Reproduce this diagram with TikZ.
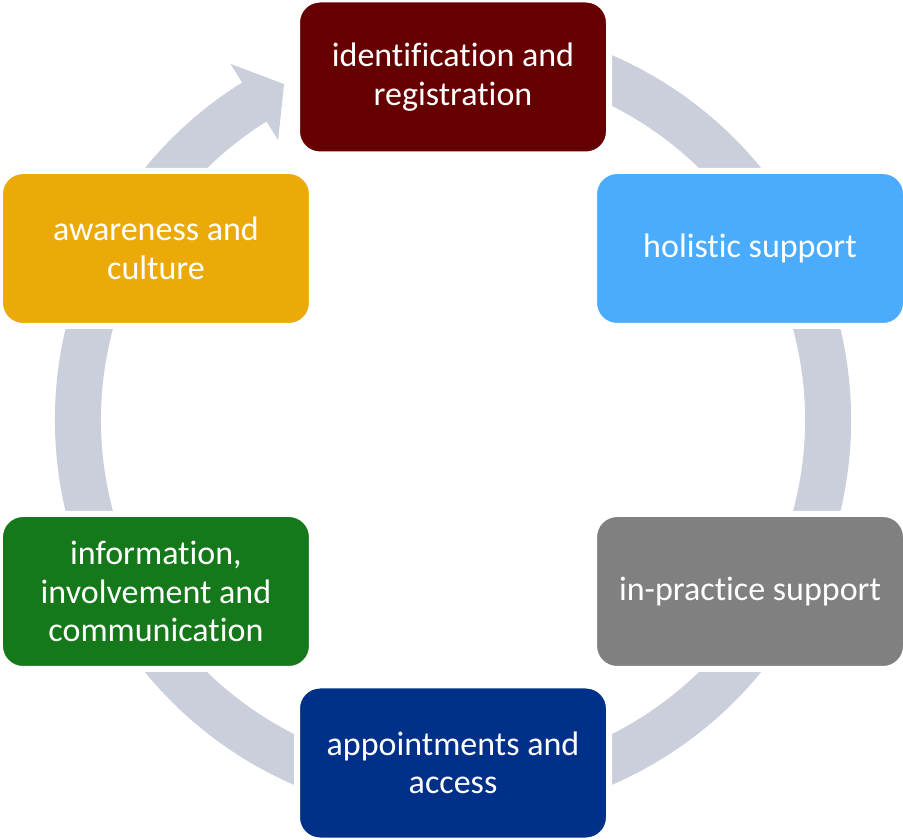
\documentclass[tikz,border=0pt]{standalone}
\usepackage{fontspec}
\setmainfont{Carlito}[Ligatures=NoCommon]
\usetikzlibrary{calc}

\definecolor{ringgray}{HTML}{CBCEDB}
\definecolor{stagered}{HTML}{660000}
\definecolor{stageblue}{HTML}{4BACFE}
\definecolor{stagegray}{HTML}{808080}
\definecolor{stagenavy}{HTML}{003087}
\definecolor{stagegreen}{HTML}{15781A}
\definecolor{stagegold}{HTML}{EBAA08}

\tikzset{
  stagebox/.style={rectangle, rounded corners=23pt, draw=white, line width=6pt,
    minimum width=312pt, minimum height=155pt, inner sep=0pt,
    text=white, align=center, font=\fontsize{34}{38.5}\selectfont},
}

\begin{document}
\begin{tikzpicture}[x=1pt,y=1pt]
    \useasboundingbox (0,0) rectangle (903,839);
    \coordinate (c) at (453,419);

    % Ring with arrow - behind the boxes
    \begin{scope}[shift={(c)}]
        \draw[ringgray, line width=46pt] (68:375) arc[start angle=68, end angle=-238.5, radius=375];
        \fill[ringgray] (122:420) -- (116.7:376) -- (122:330) -- cycle;
    \end{scope}

    % Stages, clockwise from the top
    \foreach \ang/\name/\col/\txt in {
        90/ident/stagered/{identification and\\registration},
        30/holistic/stageblue/{holistic support},
        -30/inpractice/stagegray/{in-practice support},
        -90/appoint/stagenavy/{appointments and\\access},
        -150/info/stagegreen/{information,\\involvement and\\communication},
        150/aware/stagegold/{awareness and\\culture}}
        \node[stagebox, fill=\col] (\name) at ($(c)+(\ang:343)$) {\txt};

\end{tikzpicture}
\end{document}
